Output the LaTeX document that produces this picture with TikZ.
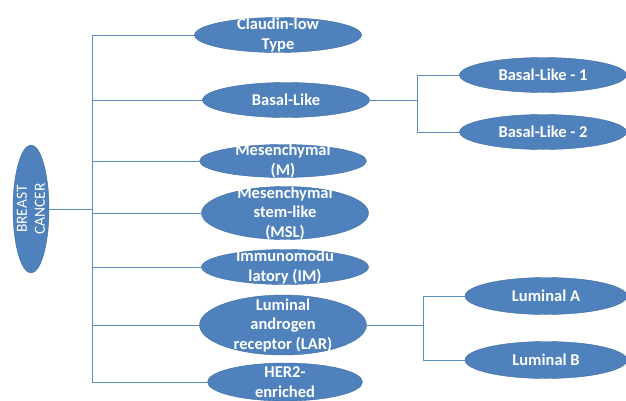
\documentclass[tikz,border=0pt]{standalone}
\usepackage{fontspec}
\setmainfont{Carlito}
\usetikzlibrary{shapes.geometric}
\definecolor{blobfill}{HTML}{4F81BD}
\definecolor{blobline}{HTML}{3E6CA3}
\definecolor{linkcol}{HTML}{5A8AC6}
\begin{document}
\begin{tikzpicture}[x=1pt,y=-1pt,
  blob/.style={draw=blobline, fill=blobfill, ellipse, inner sep=0pt, minimum width=167pt, minimum height=35pt},
  txt/.style={text=white, font=\fontsize{16.5}{19.5}\selectfont\bfseries, align=center},
  link/.style={draw=linkcol, line width=0.9pt}]
\useasboundingbox (0,0) rectangle (626,400);

\node[blob, minimum width=36pt, minimum height=128pt, label={[text=white, rotate=90, align=center, font=\fontsize{15.5}{18}\selectfont]center:BREAST\\CANCER}] (bc) at (31,209) {};

\node[blob, label={[txt]center:Claudin-low\\Type}] (claudin) at (278,35) {};
\node[blob, label={[txt]center:Basal-Like}] (basal) at (286,100) {};
\node[blob, minimum height=33pt, label={[txt]center:Mesenchymal\\(M)}] (mes) at (283,161) {};
\node[blob, minimum height=53pt, label={[txt]center:Mesenchymal\\stem-like\\(MSL)}] (msl) at (285,213) {};
\node[blob, label={[txt]center:Immunomodu\\latory (IM)}] (imm) at (285,267) {};
\node[blob, minimum height=60pt, label={[txt]center:Luminal\\androgen\\receptor (LAR)}] (lar) at (283,325) {};
\node[blob, minimum width=155pt, minimum height=38pt, label={[txt]center:HER2-\\enriched}] (her) at (285,382) {};

\node[blob, label={[txt]center:Basal-Like - 1}] (bl1) at (543,75) {};
\node[blob, label={[txt]center:Basal-Like - 2}] (bl2) at (543,132) {};
\node[blob, minimum width=162pt, minimum height=37pt, label={[txt]center:Luminal A}] (luma) at (546,296) {};
\node[blob, minimum width=162pt, minimum height=37pt, label={[txt]center:Luminal B}] (lumb) at (546,360) {};

\coordinate (trunk) at (92,0);
\coordinate (fork1) at (417,0);
\coordinate (fork2) at (423,0);

\path[link] (bc.east) -- (trunk |- bc.east);
\path[link] (trunk |- claudin.west) -- (trunk |- her.west);
\path[link] (trunk |- claudin.west) -- (claudin.west);
\path[link] (trunk |- basal.west) -- (basal.west);
\path[link] (trunk |- mes.west) -- (mes.west);
\path[link] (trunk |- msl.west) -- (msl.west);
\path[link] (trunk |- imm.west) -- (imm.west);
\path[link] (trunk |- lar.west) -- (lar.west);
\path[link] (trunk |- her.west) -- (her.west);

\path[link] (basal.east) -- (fork1 |- basal.east);
\path[link] (fork1 |- bl1.west) -- (fork1 |- bl2.west);
\path[link] (fork1 |- bl1.west) -- (bl1.west);
\path[link] (fork1 |- bl2.west) -- (bl2.west);

\path[link] (lar.east) -- (fork2 |- lar.east);
\path[link] (fork2 |- luma.west) -- (fork2 |- lumb.west);
\path[link] (fork2 |- luma.west) -- (luma.west);
\path[link] (fork2 |- lumb.west) -- (lumb.west);
\end{tikzpicture}
\end{document}
